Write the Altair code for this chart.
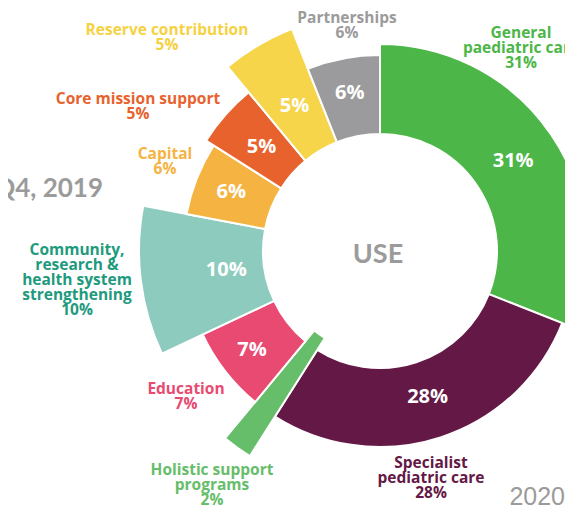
import altair as alt
import pandas as pd
import math

# ---- data ----
categories = [
    "General paediatric care",
    "Specialist pediatric care",
    "Holistic support programs",
    "Education",
    "Community, research & health system strengthening",
    "Capital",
    "Core mission support",
    "Reserve contribution",
    "Partnerships",
]
shares = [31, 28, 2, 7, 10, 6, 5, 5, 6]
label_lines = [
    "General\npaediatric care",
    "Specialist\npediatric care",
    "Holistic support\nprograms",
    "Education",
    "Community,\nresearch &\nhealth system\nstrengthening",
    "Capital",
    "Core mission support",
    "Reserve contribution",
    "Partnerships",
]

# ---- styling ----
fills = ["#4CB648", "#641845", "#66BD6A", "#E94A71", "#8DCBBE",
         "#F5B342", "#E8622E", "#F6D54A", "#9B9B9D"]
label_fills = ["#4CB648", "#641845", "#66BD6A", "#E94A71", "#1E9A7D",
               "#F5B342", "#E8622E", "#F6D243", "#9B9B9B"]
outer_radius = [207, 196, 243, 196, 241, 197, 206, 239, 196]
inner_radius = [117, 117, 103, 117, 117, 117, 117, 117, 117]
inside_label_radius = [161, 154, 0, 162, 155, 160, 158, 168, 161]
show_inside = [True, True, False, True, True, True, True, True, True]
# outside label anchors: centre of first line (pixels)
out_x = [513, 423, 204, 178, 69, 157, 130, 159, 339]
out_y = [25, 455, 462, 381, 242, 146, 91, 22, 10]

CX, CY = 372, 243
FONT = "Open Sans"

df = pd.DataFrame({
    "category": categories,
    "share": shares,
    "order": list(range(len(categories))),
    "r_out": outer_radius,
    "r_in": inner_radius,
    "r_lab": inside_label_radius,
    "fill": fills,
    "pct": [f"{s}%" if v else "" for s, v in zip(shares, show_inside)],
})

lab = pd.DataFrame({
    "text": [f"{l}\n{s}%" for l, s in zip(label_lines, shares)],
    "lx": out_x,
    "ly": out_y,
    "fill": label_fills,
})

theta_scale = alt.Scale(domain=[0, 100], range=[0, 2 * math.pi])

base = alt.Chart(df).transform_window(
    end="sum(share)", sort=[alt.SortField("order", order="ascending")],
    frame=[None, 0],
).transform_calculate(
    start="datum.end - datum.share",
    mid="datum.end - datum.share / 2",
)

arcs = base.mark_arc(stroke="white", strokeWidth=2).encode(
    theta=alt.Theta("start:Q", scale=theta_scale, stack=False),
    theta2=alt.Theta2("end:Q"),
    radius=alt.Radius("r_out:Q", scale=None, stack=False),
    radius2=alt.Radius2("r_in:Q"),
    color=alt.Color("fill:N", scale=None),
    x=alt.value(CX),
    y=alt.value(CY),
)

inside = base.mark_text(
    font=FONT, fontSize=20, fontWeight="bold", color="white",
    align="center", baseline="middle",
).encode(
    theta=alt.Theta("mid:Q", scale=theta_scale, stack=False),
    radius=alt.Radius("r_lab:Q", scale=None, stack=False),
    text="pct:N",
    x=alt.value(CX),
    y=alt.value(CY),
)

outside = alt.Chart(lab).mark_text(
    font=FONT, fontSize=15.5, fontWeight="bold", align="center",
    baseline="middle", lineBreak="\n", lineHeight=15,
).encode(
    x=alt.X("lx:Q", scale=None, axis=None),
    y=alt.Y("ly:Q", scale=None, axis=None),
    color=alt.Color("fill:N", scale=None),
    text="text:N",
)

q4 = alt.Chart(pd.DataFrame({"t": ["Q4, 2019"]})).mark_text(
    font="Lato", fontSize=26, fontWeight="bold", color="#9B9B9B",
    align="right", baseline="alphabetic",
).encode(x=alt.value(95), y=alt.value(189), text="t:N")

yr = alt.Chart(pd.DataFrame({"t": ["2020"]})).mark_text(
    font="Liberation Sans", fontSize=25, color="#9B9B9B",
    align="right", baseline="alphabetic",
).encode(x=alt.value(557), y=alt.value(497), text="t:N")

use = alt.Chart(pd.DataFrame({"t": ["USE"]})).mark_text(
    font="Lato", fontSize=27, fontWeight="bold", color="#9B9B9B",
    align="center", baseline="alphabetic",
).encode(x=alt.value(370), y=alt.value(255), text="t:N")

chart = alt.layer(arcs, inside, outside, q4, yr, use).properties(
    width=557, height=500, padding=0, autosize="none",
).configure_view(stroke=None)

chart.save("out.html", embed_options={"renderer": "svg", "actions": False})
